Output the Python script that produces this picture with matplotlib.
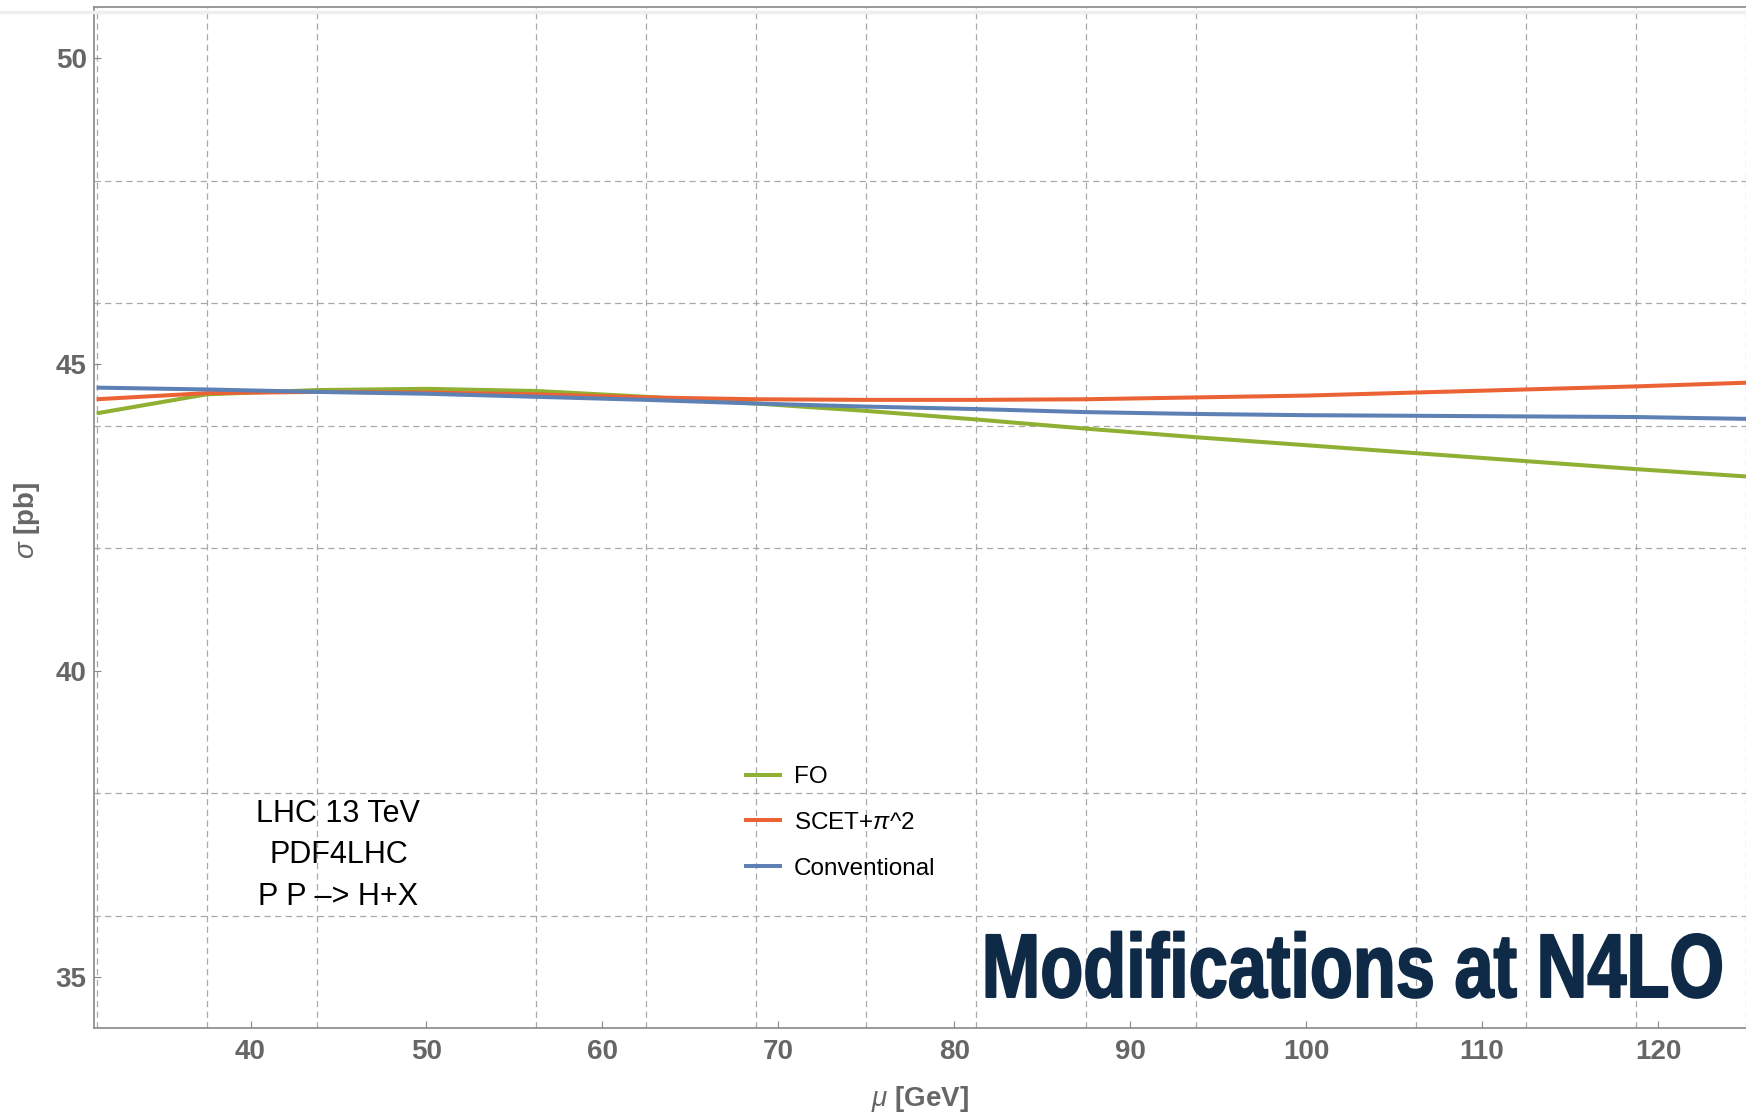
import numpy as np
import matplotlib

matplotlib.use("Agg")
import matplotlib.pyplot as plt
from matplotlib.ticker import MultipleLocator
from matplotlib.lines import Line2D
from matplotlib.patheffects import AbstractPathEffect
from matplotlib.transforms import Affine2D

# 数据：尺度 mu (GeV) 及三种方案的截面 (pb)
mu = [31.25, 37.5, 43.75, 50, 56.25, 62.5, 68.75, 75, 81.25, 87.5,
      93.75, 100, 106.25, 112.5, 118.75, 125]
sigma_fo = [44.20, 44.51, 44.58, 44.60, 44.565, 44.47, 44.36, 44.24, 44.10,
            43.95, 43.81, 43.68, 43.55, 43.42, 43.29, 43.17]
sigma_scet = [44.43, 44.53, 44.55, 44.54, 44.51, 44.46, 44.43, 44.42, 44.42,
              44.43, 44.46, 44.49, 44.54, 44.59, 44.64, 44.70]
sigma_conv = [44.62, 44.59, 44.55, 44.52, 44.47, 44.42, 44.36, 44.31, 44.27,
              44.22, 44.19, 44.17, 44.16, 44.15, 44.14, 44.11]

labels = ["FO", r"SCET+$\pi$^2", "Conventional"]
colors = ["#8FB032", "#EB6235", "#5E81B5"]
x_ticks = [40, 50, 60, 70, 80, 90, 100, 110, 120]
y_ticks = [35, 40, 45, 50]


class Condense(AbstractPathEffect):
    """把文字在水平方向压窄并略加粗（模拟窄体粗体字）。"""

    def __init__(self, sx, x0, stroke=1.2):
        super().__init__()
        self.sx = sx
        self.x0 = x0
        self.stroke = stroke

    def draw_path(self, renderer, gc, tpath, affine, rgbFace=None):
        squeeze = Affine2D().translate(-self.x0, 0).scale(self.sx, 1).translate(self.x0, 0)
        gc0 = renderer.new_gc()
        gc0.copy_properties(gc)
        gc0.set_linewidth(self.stroke)
        gc0.set_foreground(rgbFace)
        gc0.set_joinstyle("round")
        renderer.draw_path(gc0, tpath, affine + squeeze, rgbFace)
        gc0.restore()


plt.rcParams["font.family"] = ["Liberation Sans", "DejaVu Sans"]
plt.rcParams["mathtext.fontset"] = "custom"
plt.rcParams["mathtext.it"] = "Liberation Sans:italic"

fig = plt.figure(figsize=(17.46, 11.13), dpi=100)
W, H = 1746, 1113
ax = fig.add_axes([94.3 / W, 1 - 1027.7 / H, 1 - 94.3 / W, (1027.7 - 6.7) / H])

# 顶部浅灰色细带
fig.add_artist(Line2D([0, 1], [1 - 12 / H, 1 - 12 / H], color="#eeeeee", lw=2.5))

for y, c, lab in zip([sigma_fo, sigma_scet, sigma_conv], colors, labels):
    ax.plot(mu, y, color=c, lw=2.9, label=lab, solid_capstyle="butt")

ax.set_xlim(31.12, 125.0)
ax.set_ylim(34.173, 50.837)

ax.set_xticks(x_ticks)
ax.set_yticks(y_ticks)
ax.xaxis.set_minor_locator(MultipleLocator(6.25))
ax.yaxis.set_minor_locator(MultipleLocator(2))
ax.grid(which="minor", color="#a8a8a8", lw=0.9, dashes=(5, 3.5))
ax.grid(which="major", visible=False)
ax.tick_params(which="minor", length=0)
ax.tick_params(which="major", direction="in", length=5, width=0.8, color="#888888",
               labelsize=20, labelcolor="#666666")
ax.tick_params(axis="x", pad=8)
ax.tick_params(axis="y", pad=5.5)
for lab in ax.get_xticklabels() + ax.get_yticklabels():
    lab.set_fontweight("bold")

for side in ["left", "bottom", "top"]:
    ax.spines[side].set_color("#888888")
    ax.spines[side].set_linewidth(1.2)
ax.spines["right"].set_visible(False)

ax.set_xlabel(r"$\mu$ [GeV]", fontsize=20, fontweight="bold", color="#666666", labelpad=14)
ax.set_ylabel(r"$\sigma$ [pb]", fontsize=20, fontweight="bold", color="#666666")
ax.yaxis.set_label_coords(-0.0317, 0.497)

leg = ax.legend(loc="center left", bbox_to_anchor=(0.3877, 0.2005), frameon=False,
                fontsize=17.5, handlelength=1.55, handletextpad=0.5, labelspacing=0.97,
                borderaxespad=0)
for line in leg.get_lines():
    line.set_linewidth(2.9)

ax.text(0.1478, 0.169, "LHC 13 TeV\nPDF4LHC\nP P –> H+X", transform=ax.transAxes,
        ha="center", va="center", multialignment="center", fontsize=22,
        linespacing=1.5, color="black")

# 标题：粗体，以右端为基准水平压窄
title_right = 1724
title = fig.text(title_right / W, 1 - 997 / H, "Modifications at N4LO",
                 fontweight="bold", fontsize=65, color="#0E2A47",
                 ha="right", va="baseline")
title.set_path_effects([Condense(0.779, title_right, stroke=1.4)])

fig.savefig("out.png", dpi=100)
plt.close(fig)
